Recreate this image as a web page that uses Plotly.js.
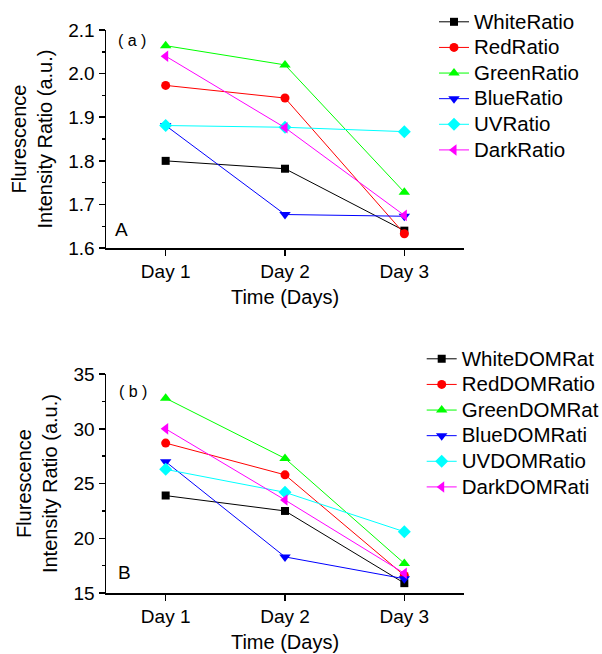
<!DOCTYPE html>
<html><head><meta charset="utf-8">
<script src="https://cdn.plot.ly/plotly-3.0.1.min.js"></script>
<style>html,body{margin:0;padding:0;background:#fff}</style>
</head><body>
<div id="chart" style="width:602px;height:654px"></div>
<script>
const days = ["Day 1", "Day 2", "Day 3"];

const namesA = ["WhiteRatio", "RedRatio", "GreenRatio", "BlueRatio", "UVRatio", "DarkRatio"];
const whiteRatio = [1.800, 1.782, 1.640];
const redRatio   = [1.973, 1.944, 1.633];
const greenRatio = [2.064, 2.020, 1.728];
const blueRatio  = [1.881, 1.677, 1.673];
const uvRatio    = [1.881, 1.877, 1.867];
const darkRatio  = [2.040, 1.876, 1.675];

const namesB = ["WhiteDOMRat", "RedDOMRatio", "GreenDOMRat", "BlueDOMRati", "UVDOMRatio", "DarkDOMRati"];
const whiteDOM = [23.9, 22.5, 15.9];
const redDOM   = [28.7, 25.8, 16.6];
const greenDOM = [32.8, 27.3, 17.7];
const blueDOM  = [27.0, 18.3, 16.3];
const uvDOM    = [26.3, 24.2, 20.6];
const darkDOM  = [30.0, 23.5, 16.8];

const colors  = ["#000000", "#ff0000", "#00ff00", "#0000ff", "#00ffff", "#ff00ff"];
const symbols = ["square", "circle", "triangle-up", "triangle-down", "diamond", "triangle-left"];
const msizes  = [8, 9, 10, 10, 10, 10];

const seriesA = [whiteRatio, redRatio, greenRatio, blueRatio, uvRatio, darkRatio];
const seriesB = [whiteDOM, redDOM, greenDOM, blueDOM, uvDOM, darkDOM];

const FONT = "Liberation Sans, Arial, sans-serif";
const legLabel = s => '<span style="font-size:20.5px">' + s + '</span>';

const traces = [];
seriesA.forEach((ys, i) => traces.push({
  x: days, y: ys, name: legLabel(namesA[i]), type: "scatter", mode: "lines+markers",
  xaxis: "x", yaxis: "y", legend: "legend",
  line: {color: colors[i], width: 1},
  marker: {symbol: symbols[i], size: msizes[i], color: colors[i]}
}));
seriesB.forEach((ys, i) => traces.push({
  x: days, y: ys, name: legLabel(namesB[i]), type: "scatter", mode: "lines+markers",
  xaxis: "x2", yaxis: "y2", legend: "legend2",
  line: {color: colors[i], width: 1},
  marker: {symbol: symbols[i], size: msizes[i], color: colors[i]}
}));

const xCommon = {
  type: "category", range: [-0.5, 2.5], showline: true, linecolor: "#000", linewidth: 1.5,
  ticks: "outside", ticklen: 6, tickwidth: 1.5, tickcolor: "#000", automargin: false,
  showgrid: false, zeroline: false, tickfont: {size: 19, color: "#000"},
  title: {text: "Time (Days)", font: {size: 20, color: "#000"}, standoff: 8}
};
const yTitle = {text: "Flurescence<br>Intensity Ratio (a.u.)", font: {size: 20, color: "#000"}, standoff: 10};

const layout = {
  width: 602, height: 654,
  margin: {l: 106, r: 138, t: 30, b: 61.3, autoexpand: false},
  paper_bgcolor: "#fff", plot_bgcolor: "#fff",
  font: {family: FONT, color: "#000"},
  showlegend: true,
  xaxis: Object.assign({}, xCommon, {domain: [0, 1], anchor: "y"}),
  yaxis: {
    domain: [0.6126, 1], anchor: "x", range: [1.6, 2.1], tick0: 1.6, dtick: 0.1, tickformat: ".1f", automargin: false,
    showline: true, linecolor: "#000", linewidth: 1.5, ticks: "outside", ticklen: 6, tickwidth: 1.5, tickcolor: "#000",
    minor: {dtick: 0.05, tick0: 1.6, ticks: "outside", ticklen: 3, tickwidth: 1.5, tickcolor: "#000", showgrid: false},
    showgrid: false, zeroline: false, tickfont: {size: 19, color: "#000"}, title: yTitle
  },
  xaxis2: Object.assign({}, xCommon, {domain: [0, 1], anchor: "y2"}),
  yaxis2: {
    domain: [0, 0.3887], anchor: "x2", range: [15, 35], tick0: 15, dtick: 5, automargin: false,
    showline: true, linecolor: "#000", linewidth: 1.5, ticks: "outside", ticklen: 6, tickwidth: 1.5, tickcolor: "#000",
    minor: {dtick: 2.5, tick0: 15, ticks: "outside", ticklen: 3, tickwidth: 1.5, tickcolor: "#000", showgrid: false},
    showgrid: false, zeroline: false, tickfont: {size: 19, color: "#000"}, title: yTitle
  },
  legend: {
    xref: "container", yref: "container", x: 434 / 602, y: 1 - 4 / 654, xanchor: "left", yanchor: "top",
    font: {size: 17.4, family: FONT, color: "#000"}, bgcolor: "rgba(0,0,0,0)", borderwidth: 0, tracegroupgap: 0
  },
  legend2: {
    xref: "container", yref: "container", x: 421.7 / 602, y: 1 - 341 / 654, xanchor: "left", yanchor: "top",
    font: {size: 17.4, family: FONT, color: "#000"}, bgcolor: "rgba(0,0,0,0)", borderwidth: 0, tracegroupgap: 0
  },
  annotations: [
    {xref: "x domain", yref: "y domain", x: 0.028, y: 0.954, xanchor: "left", yanchor: "middle", text: "( a )", showarrow: false, font: {size: 16, color: "#000"}},
    {xref: "x domain", yref: "y domain", x: 0.019, y: 0.087, xanchor: "left", yanchor: "middle", text: "A", showarrow: false, font: {size: 19, color: "#000"}},
    {xref: "x2 domain", yref: "y2 domain", x: 0.031, y: 0.919, xanchor: "left", yanchor: "middle", text: "( b )", showarrow: false, font: {size: 16, color: "#000"}},
    {xref: "x2 domain", yref: "y2 domain", x: 0.027, y: 0.095, xanchor: "left", yanchor: "middle", text: "B", showarrow: false, font: {size: 19, color: "#000"}}
  ]
};

Plotly.newPlot("chart", traces, layout, {displayModeBar: false, staticPlot: true});
</script>
</body></html>
